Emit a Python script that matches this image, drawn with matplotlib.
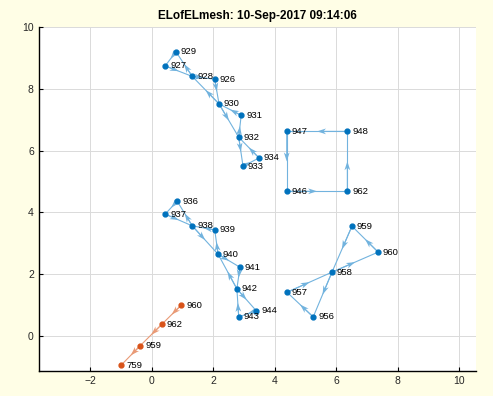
import matplotlib
matplotlib.use('Agg')
import matplotlib.pyplot as plt
import numpy as np

plt.rcParams['font.family'] = ['Liberation Sans', 'DejaVu Sans']

# blue mesh nodes
blue_ids = [926, 927, 928, 929, 930, 931, 932, 933, 934,
            936, 937, 938, 939, 940, 941, 942, 943, 944,
            946, 947, 948, 962,
            956, 957, 958, 959, 960]
blue_x = [2.05, 0.44, 1.32, 0.79, 2.19, 2.91, 2.83, 2.97, 3.49,
          0.83, 0.44, 1.32, 2.05, 2.16, 2.87, 2.77, 2.83, 3.40,
          4.39, 4.39, 6.36, 6.36,
          5.25, 4.40, 5.86, 6.51, 7.36]
blue_y = [8.31, 8.74, 8.40, 9.20, 7.51, 7.14, 6.43, 5.49, 5.76,
          4.36, 3.94, 3.56, 3.43, 2.64, 2.22, 1.52, 0.61, 0.81,
          4.68, 6.62, 6.62, 4.68,
          0.61, 1.41, 2.06, 3.55, 2.71]

# walks through the blue nodes (ids in visiting order)
walk_1 = [929, 927, 928, 926, 930, 932, 933, 934, 932, 931, 930, 928, 929]
walk_2 = [936, 937, 938, 940, 941, 942, 944, 943, 942, 940, 939, 938, 936]
walk_3 = [947, 946, 962, 948, 947]
walk_4 = [959, 958, 956, 957, 958, 960, 959]

# orange chain
orange_ids = [960, 962, 959, 759]
orange_x = [0.96, 0.34, -0.37, -0.99]
orange_y = [0.99, 0.38, -0.32, -0.95]
orange_walk = [960, 962, 959, 759]

BLUE = '#0072BD'
BLUE_LINE = '#72b3de'
ORANGE = '#D95319'
ORANGE_LINE = '#e99a76'

fig = plt.figure(figsize=(4.93, 3.96), dpi=100, facecolor='#fffee6')
ax = fig.add_axes([0.0785, 0.0624, 0.887, 0.8694])
ax.set_facecolor('white')


def draw_walk(ids, xs, ys, walk, line_col):
    pos = {i: (x, y) for i, x, y in zip(ids, xs, ys)}
    px = np.array([pos[i][0] for i in walk])
    py = np.array([pos[i][1] for i in walk])
    ax.plot(px, py, color=line_col, lw=0.8, zorder=2)
    u = np.diff(px) / 2
    v = np.diff(py) / 2
    ax.quiver(px[:-1], py[:-1], u, v, angles='xy', scale_units='xy', scale=1,
              color=line_col, width=0.0024, headwidth=5.5, headlength=8.5,
              headaxislength=6.5, zorder=3)


for w in (walk_1, walk_2, walk_3, walk_4):
    draw_walk(blue_ids, blue_x, blue_y, w, BLUE_LINE)
draw_walk(orange_ids, orange_x, orange_y, orange_walk, ORANGE_LINE)

ax.plot(blue_x, blue_y, 'o', color=BLUE, ms=3.5, ls='none', zorder=4)
ax.plot(orange_x, orange_y, 'o', color=ORANGE, ms=3.5, ls='none', zorder=4)

for i, x, y in zip(blue_ids, blue_x, blue_y):
    ax.annotate(str(i), (x, y), xytext=(3.5, 0), textcoords='offset points',
                va='center', ha='left', fontsize=6.8, color='black', zorder=5)
for i, x, y in zip(orange_ids, orange_x, orange_y):
    ax.annotate(str(i), (x, y), xytext=(3.5, 0), textcoords='offset points',
                va='center', ha='left', fontsize=6.8, color='black', zorder=5)

ax.set_xlim(-3.67, 10.54)
ax.set_ylim(-1.15, 10)
ax.set_xticks(np.arange(-2, 11, 2))
ax.set_yticks(np.arange(0, 11, 2))
ax.grid(True, color='#dadada', lw=0.7)
ax.set_axisbelow(True)
for s in ('top', 'right'):
    ax.spines[s].set_visible(False)
for s in ('left', 'bottom'):
    ax.spines[s].set_linewidth(1.0)
ax.tick_params(direction='in', length=3, width=0.8, labelsize=7.5,
               labelcolor='#262626', top=False, right=False)

ax.set_title('ELofELmesh: 10-Sep-2017 09:14:06', fontsize=8.5,
             fontweight='bold', pad=6)

fig.savefig('out.png', dpi=100, facecolor=fig.get_facecolor())
